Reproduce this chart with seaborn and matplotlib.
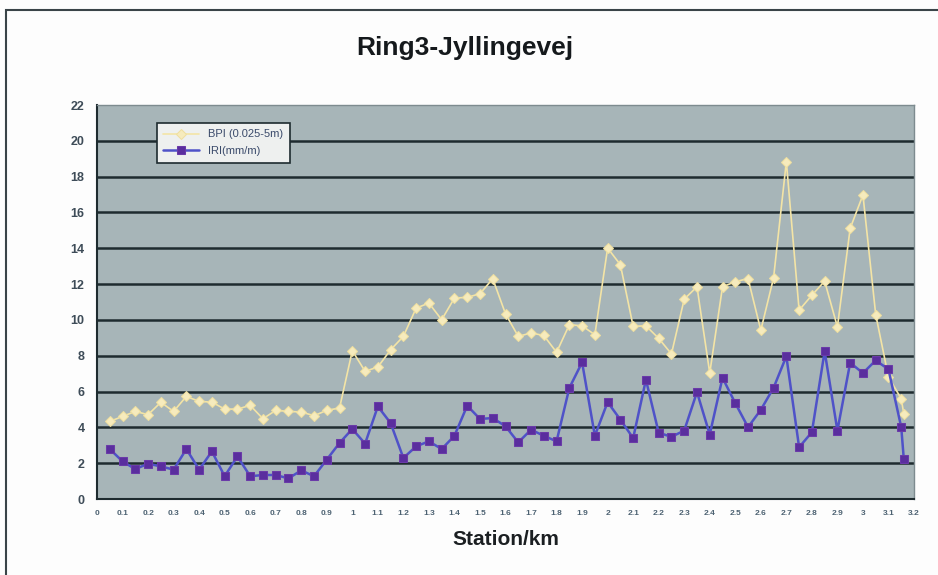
import matplotlib
matplotlib.use("Agg")
import matplotlib.pyplot as plt
import numpy as np
import pandas as pd
import seaborn as sns
from matplotlib.patches import Rectangle

# station positions (km) and values
station = [0.05 * i for i in range(1, 64)] + [3.16]

iri = [2.79, 2.10, 1.67, 1.97, 1.82, 1.64, 2.79, 1.64, 2.66, 1.27,
       2.38, 1.27, 1.34, 1.34, 1.15, 1.60, 1.27, 2.20, 3.13, 3.91,
       3.09, 5.17, 4.24, 2.29, 2.94, 3.22, 2.79, 3.53, 5.21, 4.47,
       4.52, 4.06, 3.16, 3.87, 3.53, 3.22, 6.20, 7.63, 3.53, 5.41,
       4.43, 3.40, 6.66, 3.70, 3.47, 3.82, 5.97, 3.60, 6.77, 5.35,
       4.01, 4.98, 6.21, 7.97, 2.89, 3.73, 8.25, 3.82, 7.61, 7.03,
       7.74, 7.24, 4.01, 2.24]

bpi = [4.33, 4.61, 4.89, 4.71, 5.40, 4.89, 5.73, 5.45, 5.41, 5.02,
       5.02, 5.23, 4.48, 4.95, 4.89, 4.86, 4.65, 4.95, 5.08, 8.28,
       7.13, 7.37, 8.33, 9.08, 10.66, 10.94, 10.01, 11.22, 11.26, 11.46,
       12.30, 10.34, 9.08, 9.27, 9.13, 8.19, 9.73, 9.67, 9.17, 14.01,
       13.08, 9.64, 9.67, 8.97, 8.10, 11.16, 11.85, 7.03, 11.85, 12.13,
       12.31, 9.42, 12.35, 18.84, 10.54, 11.38, 12.16, 9.61, 15.11, 16.98,
       10.30, 6.81, 5.60, 4.76]

x_ticks = [round(0.1 * i, 1) for i in range(33)]
x_labels = ["0" if t == 0 else (str(int(t)) if t == int(t) else f"{t:.1f}") for t in x_ticks]
y_ticks = list(range(0, 23, 2))

df = pd.DataFrame({"station": station, "BPI": bpi, "IRI": iri})

sns.set_style("white")
plt.rcParams["font.family"] = ["Liberation Sans", "DejaVu Sans"]

fig = plt.figure(figsize=(9.38, 5.75), dpi=100, facecolor="#fdfdfd")
ax = fig.add_axes([97 / 938, 1 - 499 / 575, (914 - 97) / 938, (499 - 105) / 575])
ax.set_facecolor("#a7b5b8")

# outer chart border (cropped at right/bottom in the original)
fig.patches.append(Rectangle((6 / 938, -0.1), 1.2, (575 - 10) / 575 + 0.1,
                             transform=fig.transFigure, fill=False,
                             edgecolor="#3a4448", linewidth=1.5, zorder=0))

for y in y_ticks[1:-1]:
    ax.axhline(y, color="#1e2b2f", linewidth=1.8, zorder=1)

sns.lineplot(data=df, x="station", y="BPI", ax=ax, color="#f3e4a6",
             linewidth=1.2, marker="D", markersize=5, markerfacecolor="#f6ebbd",
             markeredgecolor="#efdfa0", label="BPI (0.025-5m)", zorder=3, sort=False)
sns.lineplot(data=df, x="station", y="IRI", ax=ax, color="#4f52c8",
             linewidth=1.8, marker="s", markersize=6, markerfacecolor="#5a2e9e",
             markeredgecolor="#6a3aa8", label="IRI(mm/m)", zorder=4, sort=False)

ax.set_xlim(0, 3.2)
ax.set_ylim(0, 22)
ax.set_xticks(x_ticks)
ax.set_xticklabels(x_labels)
ax.set_yticks(y_ticks)
ax.tick_params(axis="x", labelsize=6, colors="#1e2b2f", labelcolor="#4d6272",
               length=4, width=1.2, direction="out", pad=4)
ax.tick_params(axis="y", labelsize=9, colors="#1e2b2f", labelcolor="#3e4c58",
               length=5, width=1.2, direction="out", pad=4)
for lab in ax.get_yticklabels():
    lab.set_fontweight("bold")
for lab in ax.get_xticklabels():
    lab.set_fontweight("bold")

for side in ["left", "bottom"]:
    ax.spines[side].set_color("#1e2b2f")
    ax.spines[side].set_linewidth(1.5)
for side in ["top", "right"]:
    ax.spines[side].set_color("#7d8b8f")
    ax.spines[side].set_linewidth(1.0)

ax.set_xlabel("Station/km", fontsize=15, fontweight="bold", color="#1b1f22", labelpad=9)
ax.set_ylabel("")
fig.text(0.496, 0.916, "Ring3-Jyllingevej", ha="center", va="center",
         fontsize=19, fontweight="bold", color="#15191c")

leg = ax.legend(loc="upper left", bbox_to_anchor=(0.073, 0.955), borderaxespad=0,
                fontsize=8, frameon=True, fancybox=False, handlelength=3.2,
                labelspacing=0.6, borderpad=0.6)
leg.get_frame().set_facecolor("#eef0ef")
leg.get_frame().set_edgecolor("#1e2b2f")
leg.get_frame().set_linewidth(1.2)
leg.get_frame().set_alpha(1)
for t in leg.get_texts():
    t.set_color("#3a4a6a")

fig.savefig("out.png", dpi=100, facecolor=fig.get_facecolor())
